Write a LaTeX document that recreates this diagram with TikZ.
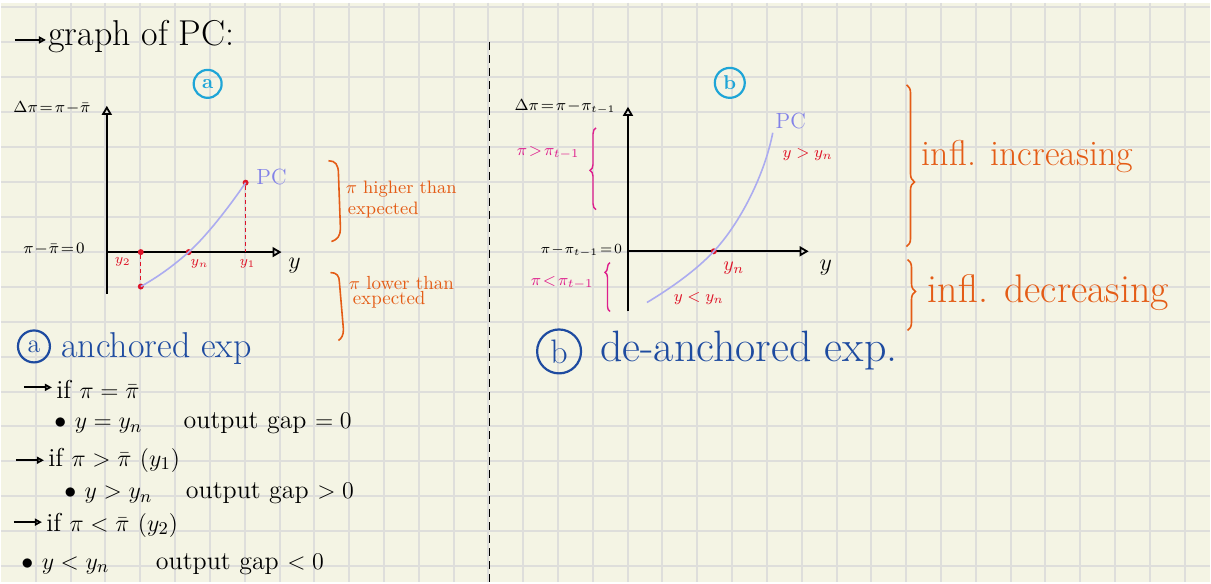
\documentclass[tikz,border=0pt]{standalone}
\usepackage{amsmath}
\usepackage{tikz}
\usetikzlibrary{arrows.meta, decorations.pathreplacing}
\definecolor{paper}{RGB}{244,244,228}
\definecolor{gridgray}{RGB}{222,222,219}
\definecolor{inkcyan}{RGB}{30,165,215}
\definecolor{inkblue}{RGB}{30,75,160}
\definecolor{inkorange}{RGB}{228,92,22}
\definecolor{inkred}{RGB}{222,20,40}
\definecolor{inkpink}{RGB}{222,30,140}
\definecolor{pcline}{RGB}{172,172,240}
\definecolor{pclabel}{RGB}{130,130,232}
\tikzset{
  gridline/.style={draw=gridgray, line width=1pt},
  divider/.style={line width=0.8pt, dash pattern=on 4pt off 2.5pt},
  axis/.style={line width=0.9pt, -{Triangle[open, length=4.5pt, width=5pt]}},
  handarrow/.style={line width=1.1pt, -{Triangle[open, length=3.5pt, width=3.5pt]}},
  pccurve/.style={pcline, line width=0.8pt},
  guide/.style={draw=inkred, dash pattern=on 2pt off 1.5pt, line width=0.7pt},
  ptdot/.style={circle, fill=inkred, inner sep=0pt, minimum size=3pt},
  tag/.style={circle, line width=1.1pt, inner sep=0pt, font=\bfseries\fontsize{10}{11}\selectfont},
  hand/.style={inner sep=0pt, anchor=west, font=\fontsize{13}{15}\selectfont},
  smalllbl/.style={inner sep=0pt, anchor=west, font=\fontsize{8.5}{9}\selectfont},
  redlbl/.style={inner sep=0pt, text=inkred, font=\fontsize{7}{8}\selectfont},
  pinklbl/.style={inner sep=0pt, text=inkpink, font=\fontsize{8.5}{9}\selectfont},
  orangelbl/.style={inner sep=0pt, anchor=west, text=inkorange, font=\fontsize{9}{10}\selectfont},
  pclbl/.style={inner sep=0pt, text=pclabel, font=\fontsize{11}{12}\selectfont},
  axlbl/.style={inner sep=0pt, font=\fontsize{12}{13}\selectfont},
  bluetitle/.style={inner sep=0pt, anchor=west, text=inkblue},
  obrace/.style={inkorange, line width=0.8pt, decorate},
  pbrace/.style={inkpink, line width=0.7pt, decorate}
}

\begin{document}
\begin{tikzpicture}[x=0.5pt, y=-0.5pt]
  \fill[paper] (0,0) rectangle (1211,583);
  \fill[white] (0,0) rectangle (1211,3);
  \foreach \k in {1,...,34} \draw[gridline] ({34.87*\k},3) -- ({34.87*\k},583);
  \foreach \k in {0,...,16} \draw[gridline] (0,{6.7+35.04*\k}) -- (1211,{6.7+35.04*\k});
  \useasboundingbox (0,0) rectangle (1211,583);

  \node[hand, anchor=base west, font=\fontsize{18}{20}\selectfont] (title) at (47,46) {graph of PC:};
  \coordinate (titletail) at (14,40);
  \draw[handarrow] (titletail) -- ([xshift=-1pt]titletail -| title.west);

  \coordinate (divtop) at (489.3,42);
  \coordinate (divbot) at (489.3,583);
  \draw[divider] (divtop) -- (divbot);

  % panel a
  \node[tag, draw=inkcyan, text=inkcyan, minimum size=14pt] (taga) at (207,84) {a};
  \coordinate (oa) at (106,252.5);
  \coordinate (ya) at (106,106);
  \coordinate (xa) at (281,252.5);
  \coordinate (ba) at (106,294);
  \draw[axis] (ba) -- (ya);
  \draw[axis] (oa) -- (xa);
  \node[smalllbl] (dpia) at (12,108) {$\Delta\pi\!=\!\pi\!-\!\bar{\pi}$};
  \node[smalllbl] (zeroa) at (22,250) {$\pi\!-\!\bar{\pi}\!=\!0$};
  \node[axlbl] (ylaba) at (294,266) {$y$};

  \node[ptdot] (p2) at (140,252.5) {};
  \node[ptdot] (pn) at (188,252.5) {};
  \node[ptdot] (p1) at (245,183) {};
  \node[ptdot] (q2) at (140,287) {};
  \coordinate (f1) at (245,252.5);
  \draw[guide] (p1) -- (f1);
  \draw[guide] (p2) -- (q2);
  \draw[pccurve] (q2.center) .. controls (158,277) and (174,265) .. (pn.center)
    .. controls (205,237.3) and (228,208) .. (p1.center);
  \node[pclbl] (pca) at (271,177) {PC};
  \node[redlbl] (y2a) at (122,262) {$y_2$};
  \node[redlbl] (yna) at (199,264) {$y_n$};
  \node[redlbl] (y1a) at (247,264) {$y_1$};

  \draw[inkorange, line width=0.8pt] (328,161) .. controls (335,161) and (338,165) .. (338,174)
    -- (340,229) .. controls (340,236) and (337,240) .. (331,242);
  \node[orangelbl] (hia) at (345,189) {$\pi$ higher than};
  \node[orangelbl] (hib) at (347,210) {expected};
  \draw[inkorange, line width=0.8pt] (330,273) .. controls (336,273) and (339,276) .. (339,283)
    -- (343,330) .. controls (343,336) and (341,339) .. (338,341);
  \node[orangelbl, font=\fontsize{9.5}{10}\selectfont] (loa) at (348,283) {$\pi$ lower than};
  \node[orangelbl, font=\fontsize{9.5}{10}\selectfont] (lob) at (352,300) {expected};

  % panel b
  \node[tag, draw=inkcyan, text=inkcyan, minimum size=15pt] (tagb) at (730,83) {b};
  \coordinate (ob) at (628,251.7);
  \coordinate (yb) at (628,107);
  \coordinate (xb) at (809,251.7);
  \coordinate (bb) at (628,312);
  \draw[axis] (bb) -- (yb);
  \draw[axis] (ob) -- (xb);
  \node[smalllbl, font=\fontsize{7.8}{9}\selectfont] (dpib) at (514,107) {$\Delta\pi\!=\!\pi\!-\!\pi_{t-1}$};
  \node[smalllbl, font=\fontsize{6.8}{8}\selectfont] (zerob) at (540,251) {$\pi\!-\!\pi_{t-1}\!=\!0$};
  \node[axlbl] (ylabb) at (826,268) {$y$};

  \node[ptdot] (pnb) at (714,251.7) {};
  \coordinate (lowb) at (647,303);
  \coordinate (topb) at (773,133);
  \draw[pccurve] (lowb) .. controls (672,288) and (697,270) .. (pnb.center)
    .. controls (740,224) and (765,175) .. (topb);
  \node[pclbl] (pcb) at (791,121) {PC};
  \node[redlbl, font=\fontsize{8}{9}\selectfont] (gtb) at (808,155) {$y>y_n$};
  \node[redlbl, font=\fontsize{10}{11}\selectfont] (ynb) at (734,269) {$y_n$};
  \node[redlbl, font=\fontsize{8}{9}\selectfont] (ltb) at (699,299) {$y<y_n$};

  \coordinate (pbtop) at (596,128);
  \coordinate (pbbot) at (596,210);
  \draw[pbrace, decoration={brace, amplitude=3pt, aspect=0.48}] (pbbot) -- (pbtop);
  \node[pinklbl] (gtpi) at (548,153) {$\pi\!>\!\pi_{t-1}$};
  \coordinate (pltop) at (610,263);
  \coordinate (plbot) at (610,312);
  \draw[pbrace, decoration={brace, amplitude=2.5pt, aspect=0.8}] (plbot) -- (pltop);
  \node[pinklbl] (ltpi) at (562,283) {$\pi\!<\!\pi_{t-1}$};

  \coordinate (obtop) at (907,85);
  \coordinate (obbot) at (907,247);
  \draw[obrace, decoration={brace, amplitude=4pt, aspect=0.6}] (obtop) -- (obbot);
  \node[orangelbl, font=\fontsize{18}{20}\selectfont] (incr) at (922,157) {infl. increasing};
  \coordinate (odtop) at (908,260);
  \coordinate (odbot) at (908,331);
  \draw[obrace, decoration={brace, amplitude=4pt, aspect=0.45}] (odtop) -- (odbot);
  \node[orangelbl, font=\fontsize{20}{22}\selectfont] (decr) at (928,293) {infl. decreasing};

  % notes
  \node[tag, draw=inkblue, text=inkblue, minimum size=16pt, font=\fontsize{13}{14}\selectfont] (nota) at (33,347) {a};
  \node[bluetitle, anchor=base west, font=\fontsize{18}{20}\selectfont] (anch) at (60,358) {anchored exp};
  \node[tag, draw=inkblue, text=inkblue, minimum size=22pt, font=\fontsize{17}{18}\selectfont] (notb) at (559,352) {b};
  \node[bluetitle, anchor=base west, font=\fontsize{22}{24}\selectfont] (deanch) at (600,362) {de-anchored exp.};

  \node[hand] (ifeq) at (55,390) {if $\pi=\bar{\pi}$};
  \coordinate (c1) at (23,388);
  \draw[handarrow] (c1) -- ([xshift=-2pt]c1 -| ifeq.west);
  \node[hand] (gapeq) at (53,424) {$\bullet$ $y=y_n$\hspace{1.6em}output gap $=0$};
  \node[hand] (ifgt) at (47,461) {if $\pi>\bar{\pi}$ $(y_1)$};
  \coordinate (c2) at (15,461);
  \draw[handarrow] (c2) -- ([xshift=-2pt]c2 -| ifgt.west);
  \node[hand] (gapgt) at (63,494) {$\bullet$ $y>y_n$\hspace{1.3em}output gap $>0$};
  \node[hand] (iflt) at (45,526) {if $\pi<\bar{\pi}$ $(y_2)$};
  \coordinate (c3) at (13,523);
  \draw[handarrow] (c3) -- ([xshift=-2pt]c3 -| iflt.west);
  \node[hand] (gaplt) at (20,565) {$\bullet$ $y<y_n$\hspace{1.8em}output gap $<0$};
\end{tikzpicture}
\end{document}
